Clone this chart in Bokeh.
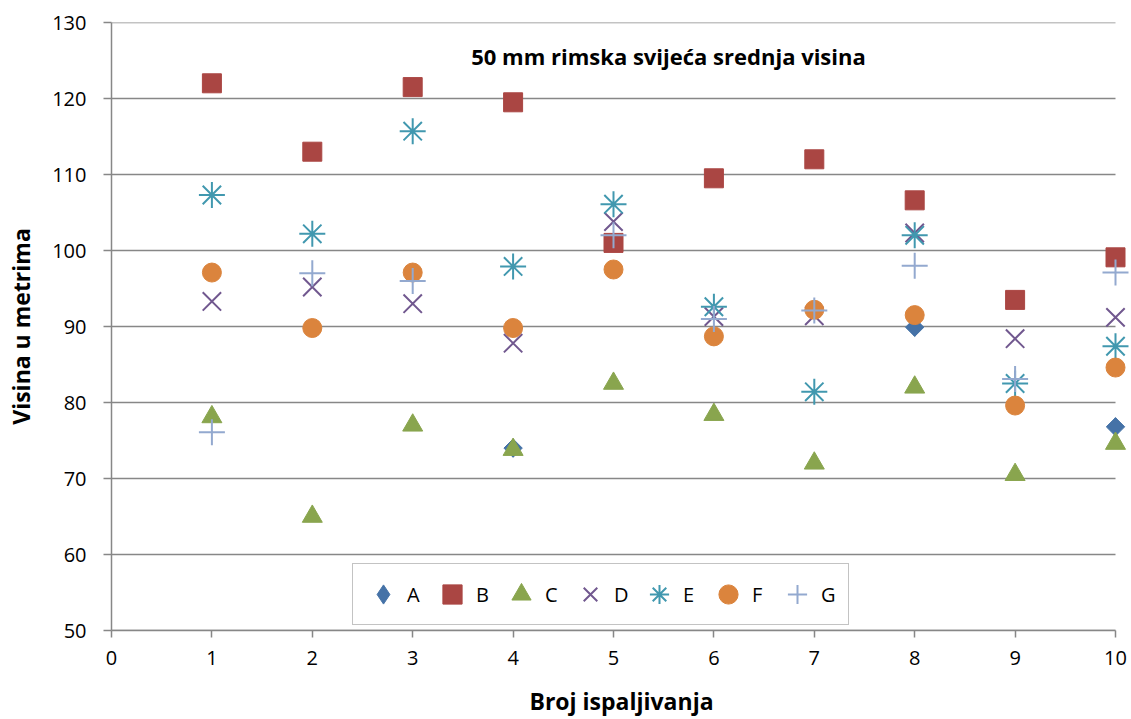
import math
from bokeh.plotting import figure
from bokeh.models import Range1d, Label, Legend, LegendItem, FixedTicker, ColumnDataSource
from bokeh.embed import file_html
from bokeh.resources import INLINE

shots = [1, 2, 3, 4, 5, 6, 7, 8, 9, 10]
nan = float("nan")
A = [nan, nan, nan, 74.0, nan, nan, nan, 89.9, nan, 76.8]
B = [122.0, 113.0, 121.5, 119.5, 101.0, 109.5, 112.0, 106.6, 93.5, 99.1]
C = [78.1, 65.0, 77.0, 73.8, 82.5, 78.4, 72.0, 82.0, 70.5, 74.6]
D = [93.3, 95.2, 93.0, 87.8, 103.8, 91.3, 91.4, 102.3, 88.4, 91.2]
E = [107.3, 102.2, 115.7, 97.9, 106.1, 92.6, 81.4, 102.0, 82.5, 87.4]
F = [97.1, 89.8, 97.1, 89.8, 97.5, 88.7, 92.2, 91.5, 79.6, 84.6]
G = [76.1, 97.0, 96.0, nan, 102.0, 91.0, 92.1, 98.0, 83.1, 97.1]
series_names = ["A", "B", "C", "D", "E", "F", "G"]
x_ticks = [0, 1, 2, 3, 4, 5, 6, 7, 8, 9, 10]
y_ticks = [50, 60, 70, 80, 90, 100, 110, 120, 130]
x_min, x_max = 0, 10
y_min, y_max = 50, 130
title_text = "50 mm rimska svijeća srednja visina"
x_title = "Broj ispaljivanja"
y_title = "Visina u metrima"

FONT = "Open Sans"
GRAY = "#878787"

W, H = 1131, 719
LEFT, TOP, BOTTOM = 111, 22, 89
frame_w = W - LEFT
px_per_unit = (1115 - LEFT) / (x_max - x_min)
x_end = x_min + frame_w / px_per_unit  # room so markers at x=10 are not clipped

p = figure(width=W, height=H, output_backend="svg", toolbar_location=None,
           x_range=Range1d(x_min, x_end), y_range=Range1d(y_min, y_max),
           min_border_left=LEFT, min_border_right=0, min_border_top=TOP, min_border_bottom=BOTTOM)
p.outline_line_color = None
p.background_fill_color = "white"
p.border_fill_color = "white"

p.xgrid.grid_line_color = None
p.ygrid.grid_line_color = None

# horizontal gridlines limited to the axis extent
p.segment(x0=[x_min] * len(y_ticks), x1=[x_max] * len(y_ticks), y0=y_ticks, y1=y_ticks,
          line_color=GRAY, line_width=1.5, level="underlay")

p.xaxis.ticker = FixedTicker(ticks=x_ticks)
p.yaxis.ticker = FixedTicker(ticks=y_ticks)
p.xaxis.bounds = (x_min, x_max)
for ax in (p.xaxis[0], p.yaxis[0]):
    ax.axis_line_color = GRAY
    ax.axis_line_width = 1.5
    ax.major_tick_line_color = GRAY
    ax.major_tick_line_width = 1.5
    ax.major_tick_in = 0
    ax.minor_tick_line_color = None
    ax.major_label_text_font = FONT
    ax.major_label_text_font_size = "20px"
    ax.major_label_text_color = "black"
    ax.axis_label_text_font = FONT
    ax.axis_label_text_font_size = "23px"
    ax.axis_label_text_font_style = "bold"
    ax.axis_label_text_color = "black"

p.xaxis.major_tick_out = 7
p.xaxis.major_label_standoff = 13
p.xaxis.axis_label = x_title
p.xaxis.axis_label_standoff = 17
p.yaxis.major_tick_out = 8
p.yaxis.major_label_standoff = 17
p.yaxis.axis_label = y_title
p.yaxis.axis_label_standoff = 12

styles = {
    "A": dict(marker="square", size=13, angle=math.pi / 4, color="#4572A7", fill=True),
    "B": dict(marker="square", size=19, angle=0, color="#AA4643", fill=True),
    "C": dict(marker="triangle", size=20, angle=0, color="#89A54E", fill=True),
    "D": dict(marker="x", size=26, angle=0, color="#71588F", fill=False),
    "E": dict(marker="asterisk", size=26, angle=0, color="#4198AF", fill=False),
    "F": dict(marker="circle", size=19, angle=0, color="#DB843D", fill=True),
    "G": dict(marker="cross", size=26, angle=0, color="#93A9CF", fill=False),
}
values = {"A": A, "B": B, "C": C, "D": D, "E": E, "F": F, "G": G}

items = []
for name in series_names:
    st = styles[name]
    src = ColumnDataSource(dict(x=shots, y=values[name]))
    legend_r = None
    if name == "A":
        # diamond drawn underneath (fully covered by the rotated square); used as legend swatch
        legend_r = p.scatter("x", "y", source=src, marker="diamond", size=18,
                             fill_color=st["color"], line_color=st["color"], line_width=1)
    if st["fill"]:
        r = p.scatter("x", "y", source=src, marker=st["marker"], size=st["size"], angle=st["angle"],
                      fill_color=st["color"], line_color=st["color"], line_width=1)
    else:
        r = p.scatter("x", "y", source=src, marker=st["marker"], size=st["size"], angle=st["angle"],
                      line_color=st["color"], line_width=2)
    items.append(LegendItem(label=name, renderers=[legend_r if legend_r is not None else r]))

legend = Legend(items=items, orientation="horizontal", location=(352 - LEFT, 5),
                label_text_font=FONT, label_text_font_size="20px", label_text_color="black",
                glyph_width=48, glyph_height=48, label_standoff=0, label_width=21, spacing=0,
                padding=6, border_line_color=GRAY, border_line_width=1.5,
                background_fill_color="white", background_fill_alpha=1.0, margin=0)
p.add_layout(legend, "center")

p.add_layout(Label(x=668 - LEFT, y=(H - BOTTOM) - 55, x_units="screen", y_units="screen",
                   text=title_text, text_align="center", text_baseline="middle", text_font=FONT,
                   text_font_size="22px", text_font_style="bold", text_color="black"))

open("out.html", "w").write(file_html(p, INLINE))
